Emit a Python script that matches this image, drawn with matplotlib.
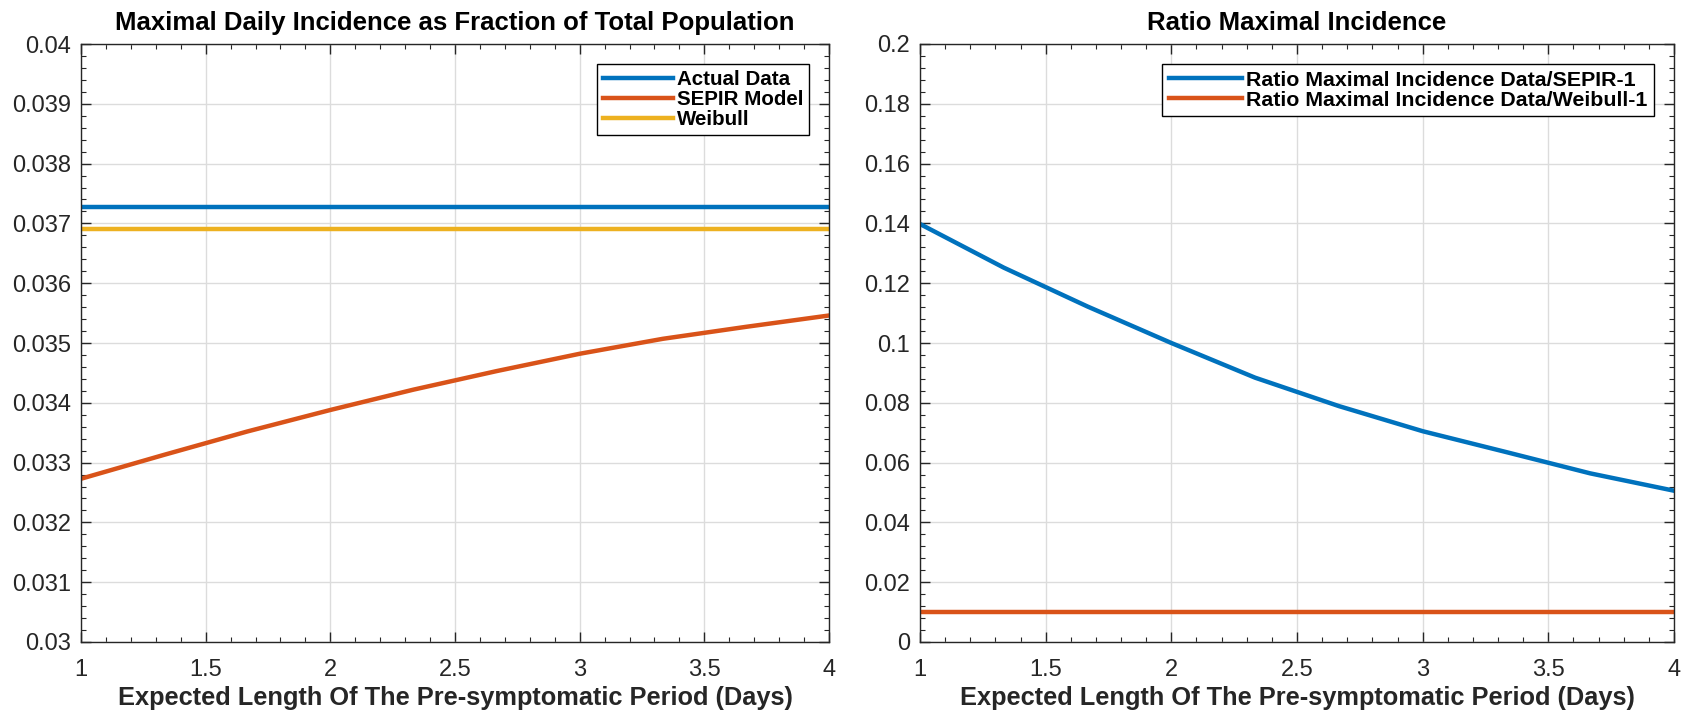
import numpy as np
import matplotlib
matplotlib.use("Agg")
import matplotlib.pyplot as plt
from matplotlib.ticker import MultipleLocator, FormatStrFormatter

# Expected length of the pre-symptomatic period (days)
presymp_days = [1.0, 4/3, 5/3, 2.0, 7/3, 8/3, 3.0, 10/3, 11/3, 4.0]

# Maximal daily incidence as fraction of total population
actual_peak = [0.03727] * len(presymp_days)
sepir_peak = [0.03273, 0.03313, 0.03352, 0.03388, 0.03422,
              0.03453, 0.03482, 0.03507, 0.03527, 0.03546]
weibull_peak = [0.03690] * len(presymp_days)

# Ratio of maximal incidence minus one
ratio_sepir = [0.1398, 0.1252, 0.1122, 0.1000, 0.0884,
               0.0789, 0.0705, 0.0635, 0.0564, 0.0506]
ratio_weibull = [0.0101] * len(presymp_days)

left_title = "Maximal Daily Incidence as Fraction of Total Population"
right_title = "Ratio Maximal Incidence"
x_label = "Expected Length Of The Pre-symptomatic Period (Days)"

BLUE = "#0072BD"
ORANGE = "#D95319"
YELLOW = "#EDB120"
INK = "#262626"

plt.rcParams["font.family"] = ["Liberation Sans", "DejaVu Sans"]

W, H = 1687, 713
fig = plt.figure(figsize=(W / 100, H / 100), dpi=100)
fig.patch.set_facecolor("white")

ax1 = fig.add_axes([81 / W, (H - 642) / H, 748 / W, 598 / H])
ax2 = fig.add_axes([920 / W, (H - 642) / H, 754 / W, 598 / H])


def style_axes(ax, ymin, ymax, ymajor, yminor, yfmt):
    ax.set_xlim(1, 4)
    ax.set_ylim(ymin, ymax)
    ax.xaxis.set_major_locator(MultipleLocator(0.5))
    ax.xaxis.set_minor_locator(MultipleLocator(0.1))
    ax.yaxis.set_major_locator(MultipleLocator(ymajor))
    ax.yaxis.set_minor_locator(MultipleLocator(yminor))
    ax.xaxis.set_major_formatter(FormatStrFormatter("%g"))
    ax.yaxis.set_major_formatter(FormatStrFormatter(yfmt))
    ax.grid(True, which="major", color="#DCDCDC", linewidth=1.0)
    ax.set_axisbelow(True)
    for s in ax.spines.values():
        s.set_color(INK)
        s.set_linewidth(1.0)
    ax.tick_params(which="both", direction="in", top=True, right=True,
                   colors=INK, labelcolor=INK, labelsize=17)
    ax.tick_params(which="major", length=7, width=1.0)
    ax.tick_params(which="minor", length=3.5, width=0.8)
    ax.tick_params(axis="x", pad=12)
    ax.tick_params(axis="y", pad=7)
    ax.set_xlabel(x_label, fontsize=18.3, fontweight="bold", color=INK, labelpad=4)


# Left panel: peak incidence
ax1.plot(presymp_days, actual_peak, color=BLUE, lw=3.2, label="Actual Data")
ax1.plot(presymp_days, sepir_peak, color=ORANGE, lw=3.2, label="SEPIR Model")
ax1.plot(presymp_days, weibull_peak, color=YELLOW, lw=3.2, label="Weibull")
style_axes(ax1, 0.03, 0.04, 0.001, 0.0002, "%g")
ax1.set_title(left_title, fontsize=18.5, fontweight="bold", color="black",
              y=1.024, pad=0)

# Right panel: ratios
ax2.plot(presymp_days, ratio_sepir, color=BLUE, lw=3.2,
         label="Ratio Maximal Incidence Data/SEPIR-1")
ax2.plot(presymp_days, ratio_weibull, color=ORANGE, lw=3.2,
         label="Ratio Maximal Incidence Data/Weibull-1")
style_axes(ax2, 0.0, 0.2, 0.02, 0.004, "%g")
ax2.set_title(right_title, fontsize=18.5, fontweight="bold", color="black",
              y=1.024, pad=0)

for ax, fsize in ((ax1, 14.8), (ax2, 15.4)):
    leg = ax.legend(loc="upper right", fancybox=False, framealpha=1,
                    edgecolor="black", handlelength=3.4, handletextpad=0.2,
                    borderpad=0.3, labelspacing=0.05, borderaxespad=0.95,
                    prop={"weight": "bold", "size": fsize})
    leg.get_frame().set_linewidth(1.0)
    for t in leg.get_texts():
        t.set_color("black")

fig.savefig("out.png", dpi=100, facecolor="white")
